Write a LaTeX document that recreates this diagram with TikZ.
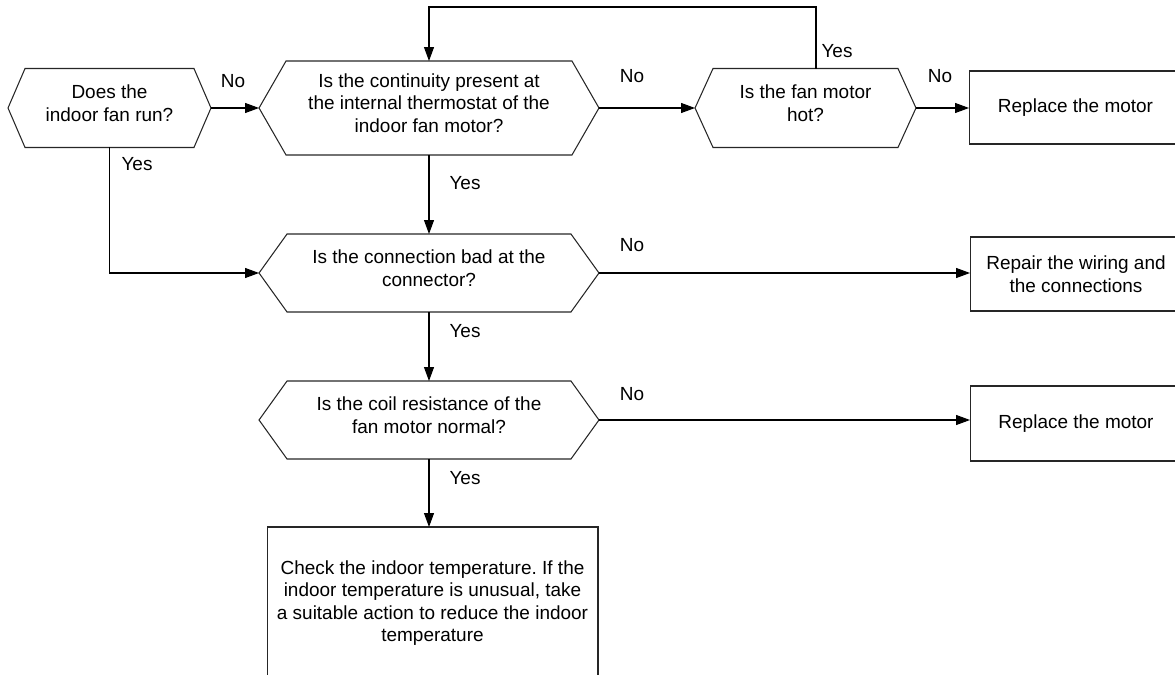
\documentclass[tikz,border=0pt]{standalone}
\usepackage{fontspec}
\setmainfont{Liberation Sans}
\usetikzlibrary{arrows.meta, positioning}
\frenchspacing

\begin{document}
\begin{tikzpicture}[
            x=0.02cm, y=-0.02cm,
            line width=0.6pt,
            every node/.style={font=\fontsize{10.8}{12.8}\selectfont},
            hexbox/.style={shape=rectangle, draw=none, outer sep=0pt},
            htext/.style={align=center, yshift=0.1cm},
            actbox/.style={shape=rectangle, draw=black!85, outer sep=0pt, align=center},
            shp/.style={draw=black!85},
            arr/.style={draw=black, -{Triangle[length=0.28cm, width=0.2cm]}},
            lbl/.style={inner sep=0pt}
        ]

        \clip (0,0) rectangle (1175,675);

        % decisions
        \node[hexbox, minimum width=3.38cm, minimum height=1.58cm,
            label={[htext, name=fanrun-t]center:{Does the\\indoor fan run?}}] (fanrun) at (109.5,108) {};
        \node[hexbox, minimum width=5.72cm, minimum height=1.88cm,
            label={[htext, name=contin-t]center:{Is the continuity present at\\the internal thermostat of the\\indoor fan motor?}}] (contin) at (429,108) {};
        \node[hexbox, minimum width=3.70cm, minimum height=1.58cm,
            label={[htext, name=hot-t]center:{Is the fan motor\\hot?}}] (hot) at (805.5,108) {};
        \node[hexbox, minimum width=5.68cm, minimum height=1.56cm,
            label={[htext, name=conn-t]center:{Is the connection bad at the\\connector?}}] (conn) at (429,273) {};
        \node[hexbox, minimum width=5.68cm, minimum height=1.56cm,
            label={[htext, name=coil-t]center:{Is the coil resistance of the\\fan motor normal?}}] (coil) at (429,420) {};

        \foreach \n/\d in {fanrun/17, contin/27, hot/18, conn/28, coil/28}{
            \draw[shp] (\n.north west) -- (\n.north east) -- ([xshift=\d*0.02cm]\n.east)
                -- (\n.south east) -- (\n.south west) -- ([xshift=-\d*0.02cm]\n.west) -- cycle;
            \coordinate (\n-l) at ([xshift=-\d*0.02cm]\n.west);
            \coordinate (\n-r) at ([xshift=\d*0.02cm]\n.east);
        }

        % actions
        \node[actbox, minimum width=4.26cm, minimum height=1.46cm] (repl1) at (1075.5,107.5) {Replace the motor};
        \node[actbox, minimum width=4.24cm, minimum height=1.48cm] (repair) at (1076,274) {Repair the wiring and\\the connections};
        \node[actbox, minimum width=4.24cm, minimum height=1.50cm] (repl2) at (1076,423.5) {Replace the motor};
        \node[actbox, minimum width=6.62cm, minimum height=3.04cm] (check) at (432.5,603) {Check the indoor temperature. If the\\indoor temperature is unusual, take\\a suitable action to reduce the indoor\\temperature};

        % connectors
        \coordinate (loop) at (816,7);
        \draw[arr] (fanrun-r) -- (contin-l);
        \draw[arr] (contin-r) -- (hot-l);
        \draw[arr] (hot-r) -- (hot-r -| repl1.west);
        \draw[arr] (hot.north -| loop) -- (loop) -| (contin.north);
        \draw[arr] (fanrun.south) |- (conn-l);
        \draw[arr] (contin.south) -- (conn.north);
        \draw[arr] (conn-r) -- (conn-r -| repair.west);
        \draw[arr] (conn.south) -- (coil.north);
        \draw[arr] (coil-r) -- (coil-r -| repl2.west);
        \draw[arr] (coil.south) -- (coil.south |- check.north);

        % labels
        \node[lbl] (no1) at (233,81) {No};
        \node[lbl] (no2) at (632,76) {No};
        \node[lbl] (yes1) at (837,51) {Yes};
        \node[lbl] (no3) at (940,76) {No};
        \node[lbl] (yes2) at (137,164) {Yes};
        \node[lbl] (yes3) at (465,183) {Yes};
        \node[lbl] (no4) at (632,245) {No};
        \node[lbl] (yes4) at (465,331) {Yes};
        \node[lbl] (no5) at (632,394) {No};
        \node[lbl] (yes5) at (465,478) {Yes};

\end{tikzpicture}
\end{document}
